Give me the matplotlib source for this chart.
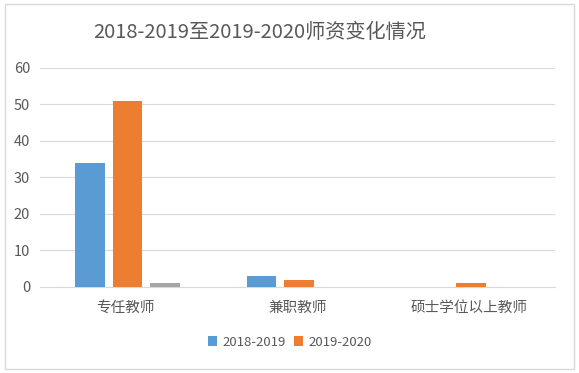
import matplotlib.pyplot as plt
import numpy as np
from matplotlib.patches import Rectangle

plt.rcParams['font.family'] = ['Noto Sans CJK SC', 'DejaVu Sans']

# data
categories = ["专任教师", "兼职教师", "硕士学位以上教师"]
year_2018 = [34, 3, 0]
year_2019 = [51, 2, 1]
extra = [1, 0, 0]
yticks = [0, 10, 20, 30, 40, 50, 60]

fig = plt.figure(figsize=(5.79, 3.73), dpi=100)
fig.patches.append(Rectangle((0.008, 0.012), 0.984, 0.976, transform=fig.transFigure,
                             fill=False, edgecolor='#d9d9d9', linewidth=1))
ax = fig.add_axes([0.069, 0.2306, 0.89, 0.5871])

x = np.arange(len(categories))
w = 0.174
step = 0.22
ax.bar(x - step + 0.01, year_2018, w, color='#5b9bd5', label='2018-2019', zorder=3)
ax.bar(x + 0.01, year_2019, w, color='#ed7d31', label='2019-2020', zorder=3)
ax.bar(x + step + 0.01, extra, w, color='#a5a5a5', zorder=3)

ax.set_xlim(-0.5, 2.5)
ax.set_ylim(0, 60)
ax.set_yticks(yticks)
ax.set_xticks(x)
ax.set_xticklabels(categories)
ax.grid(axis='y', color='#d9d9d9', linewidth=0.8, zorder=0)
for s in ['top', 'right', 'left']:
    ax.spines[s].set_visible(False)
ax.spines['bottom'].set_color('#d9d9d9')
ax.tick_params(axis='both', length=0, colors='#595959', labelsize=10.5)
ax.tick_params(axis='x', pad=10)
ax.tick_params(axis='y', pad=7)

fig.text(0.449, 0.912, "2018-2019至2019-2020师资变化情况", ha='center', va='center',
         fontsize=14.5, color='#595959')

fig.legend(loc='center', bbox_to_anchor=(0.5, 0.083), ncol=2, frameon=False,
           fontsize=9.5, handlelength=0.7, handleheight=0.7, handletextpad=0.4,
           columnspacing=0.6, labelcolor='#595959')

plt.savefig("out.png", dpi=100)
